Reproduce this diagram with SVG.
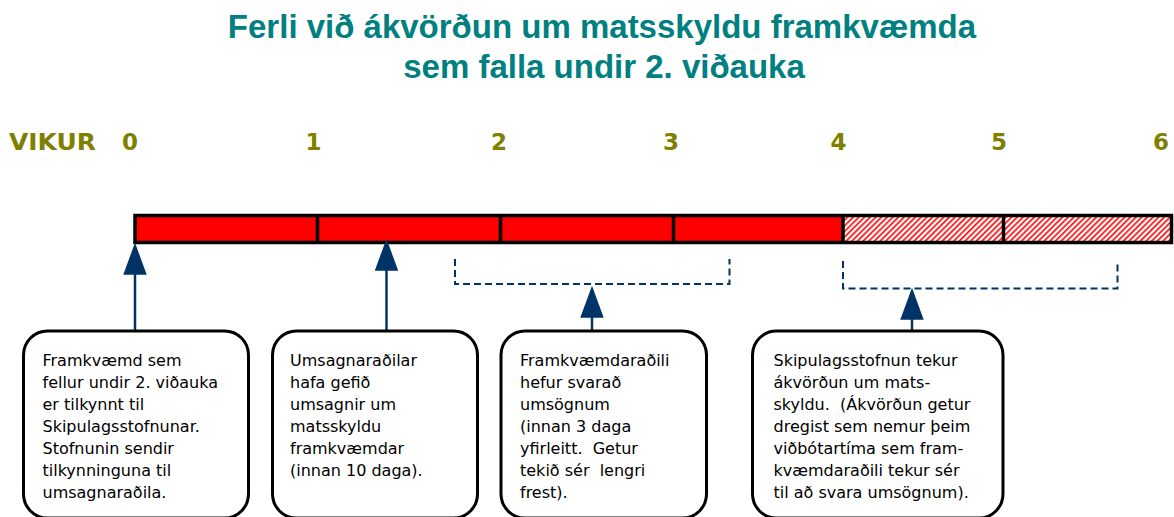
<svg xmlns="http://www.w3.org/2000/svg" width="1174" height="517" viewBox="0 0 1174 517">
<defs>
<style>
.title{font-family:"Liberation Sans",Arial,sans-serif;font-weight:bold;font-size:33px;fill:#008080;text-anchor:middle}
.wk{font-family:"DejaVu Sans",Verdana,sans-serif;font-weight:bold;font-size:23px;fill:#808000}
.wkn{text-anchor:middle}
.box{fill:#ffffff;stroke:#000000;stroke-width:3}
.txt{font-family:"DejaVu Sans",Verdana,sans-serif;font-size:16px;fill:#000000;white-space:pre}
.seg{stroke:#000000;stroke-width:3.5}
.arr{fill:none;stroke:#003366;stroke-width:2.5}
.brk{fill:none;stroke:#003366;stroke-width:2;stroke-dasharray:7 4}
</style>
<pattern id="hatch" patternUnits="userSpaceOnUse" width="4" height="4" patternTransform="rotate(45)">
<rect x="0" y="0" width="4" height="4" fill="#ffffff"/>
<rect x="0" y="0" width="1.6" height="4" fill="#ff0000"/>
</pattern>
<marker id="head" markerUnits="userSpaceOnUse" markerWidth="32" markerHeight="24" viewBox="0 0 30 22" refX="26" refY="11" orient="auto">
<path d="M0,0 L30,11 L0,22 z" fill="#003366"/>
</marker>
</defs>
<rect x="0" y="0" width="1174" height="517" fill="#ffffff"/>

<g id="title">
<text class="title" x="602" y="38">Ferli við ákvörðun um matsskyldu framkvæmda</text>
<text class="title" x="604" y="78">sem falla undir 2. viðauka</text>
</g>

<g id="weeks">
<text class="wk" x="9" y="149.5" textLength="87" lengthAdjust="spacingAndGlyphs">VIKUR</text>
<text class="wk wkn" x="130" y="149.5">0</text>
<text class="wk wkn" x="313.5" y="149.5">1</text>
<text class="wk wkn" x="499" y="149.5">2</text>
<text class="wk wkn" x="671" y="149.5">3</text>
<text class="wk wkn" x="838.5" y="149.5">4</text>
<text class="wk wkn" x="999" y="149.5">5</text>
<text class="wk wkn" x="1161" y="149.5">6</text>
</g>

<g id="timeline">
<rect x="135" y="215.5" width="708" height="27" fill="#ff0000"/>
<rect x="843" y="215.5" width="328.5" height="27" fill="url(#hatch)"/>
<rect x="135" y="215.5" width="1036.5" height="27" fill="none" class="seg"/>
<line class="seg" x1="317.5" y1="215.5" x2="317.5" y2="242.5"/>
<line class="seg" x1="500.5" y1="215.5" x2="500.5" y2="242.5"/>
<line class="seg" x1="673.5" y1="215.5" x2="673.5" y2="242.5"/>
<line class="seg" x1="843" y1="215.5" x2="843" y2="242.5"/>
<line class="seg" x1="1003.5" y1="215.5" x2="1003.5" y2="242.5"/>
</g>

<g id="connectors">
<path class="brk" d="M455,259 V284 H729.5 V259"/>
<path class="brk" d="M843,261 V288.5 H1117.5 V261"/>
<path class="arr" d="M135,331 V247" marker-end="url(#head)"/>
<path class="arr" d="M386.5,331 V243" marker-end="url(#head)"/>
<path class="arr" d="M592,331 V290" marker-end="url(#head)"/>
<path class="arr" d="M912,331 V292" marker-end="url(#head)"/>
</g>

<g id="node1">
<rect class="box" x="23.5" y="331" width="225" height="187" rx="24" ry="24"/>
<text class="txt" x="42.5" y="365.5">Framkvæmd sem</text>
<text class="txt" x="42.5" y="387.5">fellur undir 2. viðauka</text>
<text class="txt" x="42.5" y="409.5">er tilkynnt til</text>
<text class="txt" x="42.5" y="431.5">Skipulagsstofnunar.</text>
<text class="txt" x="42.5" y="453.5">Stofnunin sendir</text>
<text class="txt" x="42.5" y="475.5">tilkynninguna til</text>
<text class="txt" x="42.5" y="497.5">umsagnaraðila.</text>
</g>

<g id="node2">
<rect class="box" x="272.5" y="331" width="205" height="187" rx="24" ry="24"/>
<text class="txt" x="290" y="365.5">Umsagnaraðilar</text>
<text class="txt" x="290" y="387.5">hafa gefið</text>
<text class="txt" x="290" y="409.5">umsagnir um</text>
<text class="txt" x="290" y="431.5">matsskyldu</text>
<text class="txt" x="290" y="453.5">framkvæmdar</text>
<text class="txt" x="290" y="475.5">(innan 10 daga).</text>
</g>

<g id="node3">
<rect class="box" x="501" y="331" width="205.5" height="187" rx="24" ry="24"/>
<text class="txt" x="520" y="365.5">Framkvæmdaraðili</text>
<text class="txt" x="520" y="387.5">hefur svarað</text>
<text class="txt" x="520" y="409.5">umsögnum</text>
<text class="txt" x="520" y="431.5">(innan 3 daga</text>
<text class="txt" x="520" y="453.5">yfirleitt.  Getur</text>
<text class="txt" x="520" y="475.5">tekið sér  lengri</text>
<text class="txt" x="520" y="497.5">frest).</text>
</g>

<g id="node4">
<rect class="box" x="752.5" y="331" width="250.5" height="187" rx="24" ry="24"/>
<text class="txt" x="773.5" y="365.5">Skipulagsstofnun tekur</text>
<text class="txt" x="773.5" y="387.5">ákvörðun um mats-</text>
<text class="txt" x="773.5" y="409.5">skyldu.  (Ákvörðun getur</text>
<text class="txt" x="773.5" y="431.5">dregist sem nemur þeim</text>
<text class="txt" x="773.5" y="453.5">viðbótartíma sem fram-</text>
<text class="txt" x="773.5" y="475.5">kvæmdaraðili tekur sér</text>
<text class="txt" x="773.5" y="497.5">til að svara umsögnum).</text>
</g>
</svg>
